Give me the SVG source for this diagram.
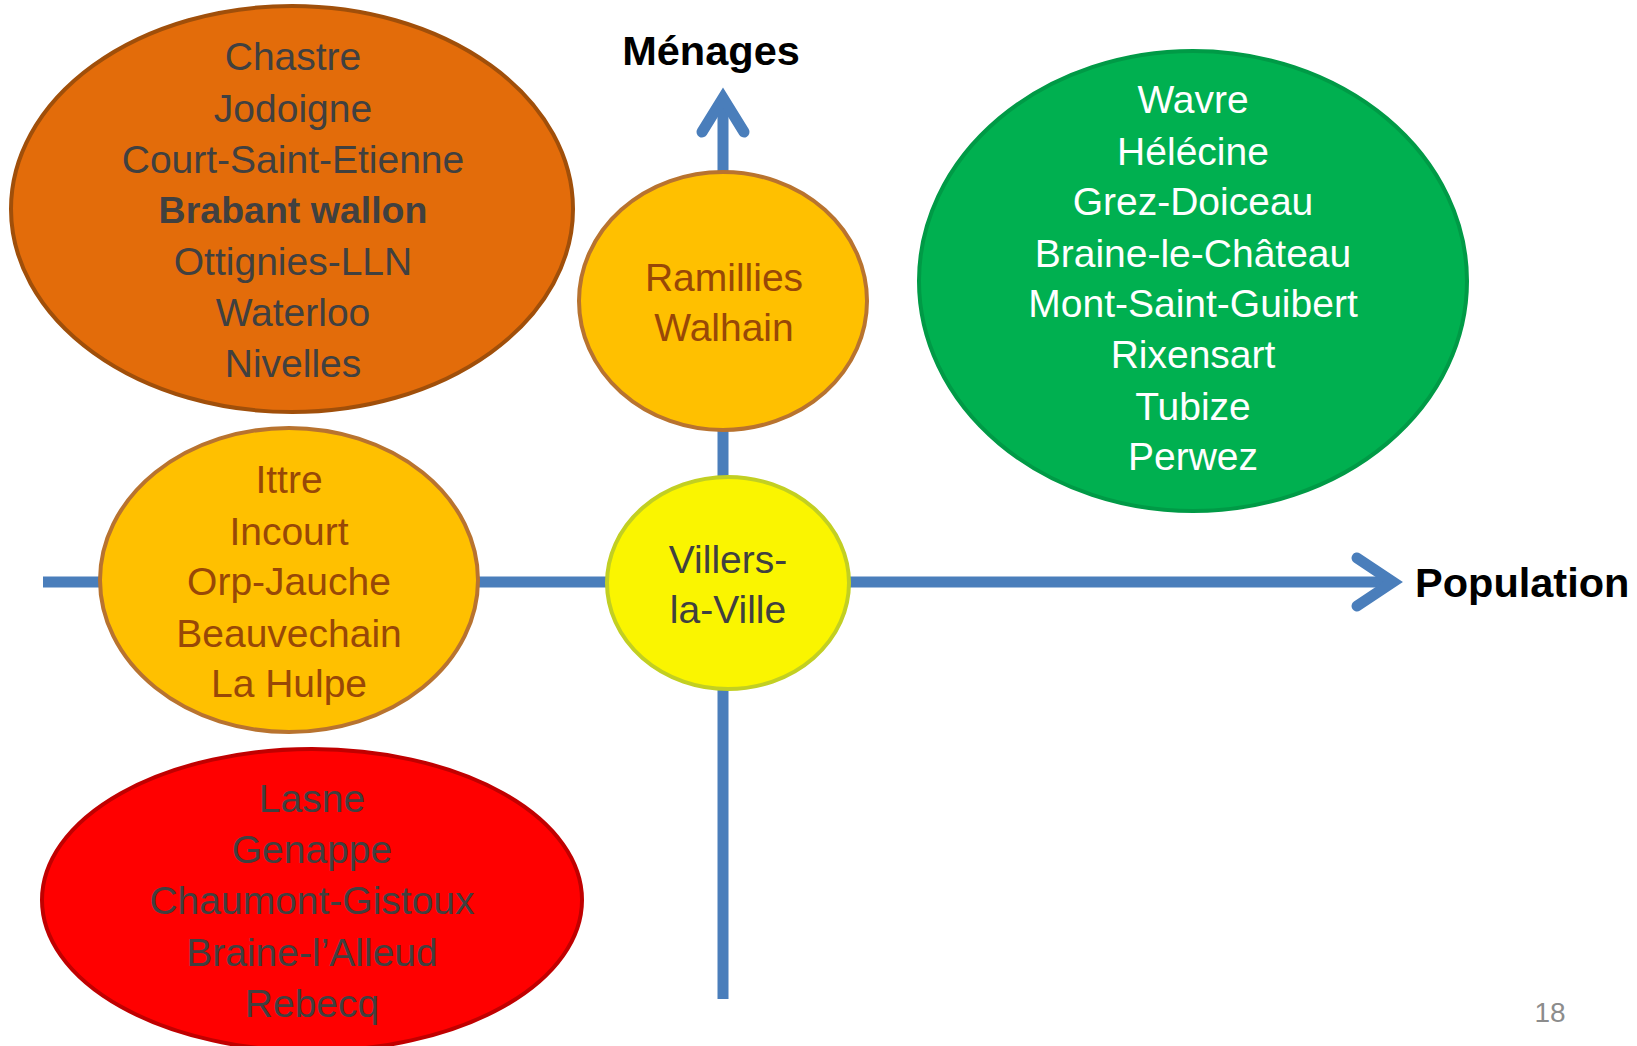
<svg xmlns="http://www.w3.org/2000/svg" width="1637" height="1046" viewBox="0 0 1637 1046">
<style>
text{font-family:"Liberation Sans",Arial,sans-serif;font-size:39px;text-anchor:middle}
.axis{fill:none;stroke:#4A7EBB;stroke-width:11}
.head{fill:none;stroke:#4A7EBB;stroke-width:11;stroke-linecap:round;stroke-linejoin:miter}
.title{font-weight:bold;font-size:41.5px;fill:#000}
.gray{fill:#404040}
.brown{fill:#984807}
.white{fill:#fff}
</style>
<rect width="1637" height="1046" fill="#fff"/>
<g id="connectors">
<line class="axis" x1="723" y1="999" x2="723" y2="100"/>
<polyline class="head" points="702,132 723,98 744,132"/>
<line class="axis" x1="43" y1="582" x2="1392" y2="582"/>
<polyline class="head" points="1357,558 1393,582 1357,606"/>
</g>
<g id="label-menages"><text class="title" x="711" y="65">Ménages</text></g>
<g id="label-population"><text class="title" x="1415" y="597" style="text-anchor:start">Population</text></g>
<g id="node-orange">
<ellipse cx="292" cy="209" rx="281" ry="203" fill="#E36C0A" stroke="#A04F0A" stroke-width="4"/>
<g class="gray">
<text x="293" y="70">Chastre</text>
<text x="293" y="122">Jodoigne</text>
<text x="293" y="173">Court-Saint-Etienne</text>
<text x="293" y="223" font-weight="bold" style="font-size:37.5px">Brabant wallon</text>
<text x="293" y="275">Ottignies-LLN</text>
<text x="293" y="326">Waterloo</text>
<text x="293" y="377">Nivelles</text>
</g>
</g>
<g id="node-ramillies">
<ellipse cx="723" cy="301" rx="144" ry="129" fill="#FFC000" stroke="#B8732F" stroke-width="4"/>
<g class="brown">
<text x="724" y="291">Ramillies</text>
<text x="724" y="341">Walhain</text>
</g>
</g>
<g id="node-green">
<ellipse cx="1193" cy="281" rx="274" ry="230" fill="#00B050" stroke="#009A46" stroke-width="4"/>
<g class="white">
<text x="1193" y="113">Wavre</text>
<text x="1193" y="165">Hélécine</text>
<text x="1193" y="215">Grez-Doiceau</text>
<text x="1193" y="267">Braine-le-Château</text>
<text x="1193" y="317">Mont-Saint-Guibert</text>
<text x="1193" y="368">Rixensart</text>
<text x="1193" y="420">Tubize</text>
<text x="1193" y="470">Perwez</text>
</g>
</g>
<g id="node-ittre">
<ellipse cx="289" cy="580" rx="189" ry="152" fill="#FFC000" stroke="#B8732F" stroke-width="4"/>
<g class="brown">
<text x="289" y="493">Ittre</text>
<text x="289" y="545">Incourt</text>
<text x="289" y="595">Orp-Jauche</text>
<text x="289" y="647">Beauvechain</text>
<text x="289" y="697">La Hulpe</text>
</g>
</g>
<g id="node-villers">
<ellipse cx="728" cy="583" rx="121" ry="106" fill="#FAF500" stroke="#C2CF22" stroke-width="4"/>
<g class="gray">
<text x="728" y="573">Villers-</text>
<text x="728" y="623">la-Ville</text>
</g>
</g>
<g id="node-red">
<ellipse cx="312" cy="900" rx="270" ry="151" fill="#FF0000" stroke="#C00000" stroke-width="4"/>
<g class="gray">
<text x="312" y="812">Lasne</text>
<text x="312" y="863">Genappe</text>
<text x="312" y="914">Chaumont-Gistoux</text>
<text x="312" y="966">Braine-l’Alleud</text>
<text x="312" y="1017">Rebecq</text>
</g>
</g>
<g id="page-number"><text x="1550" y="1022" style="font-size:28px;fill:#8C8C8C">18</text></g>
</svg>
